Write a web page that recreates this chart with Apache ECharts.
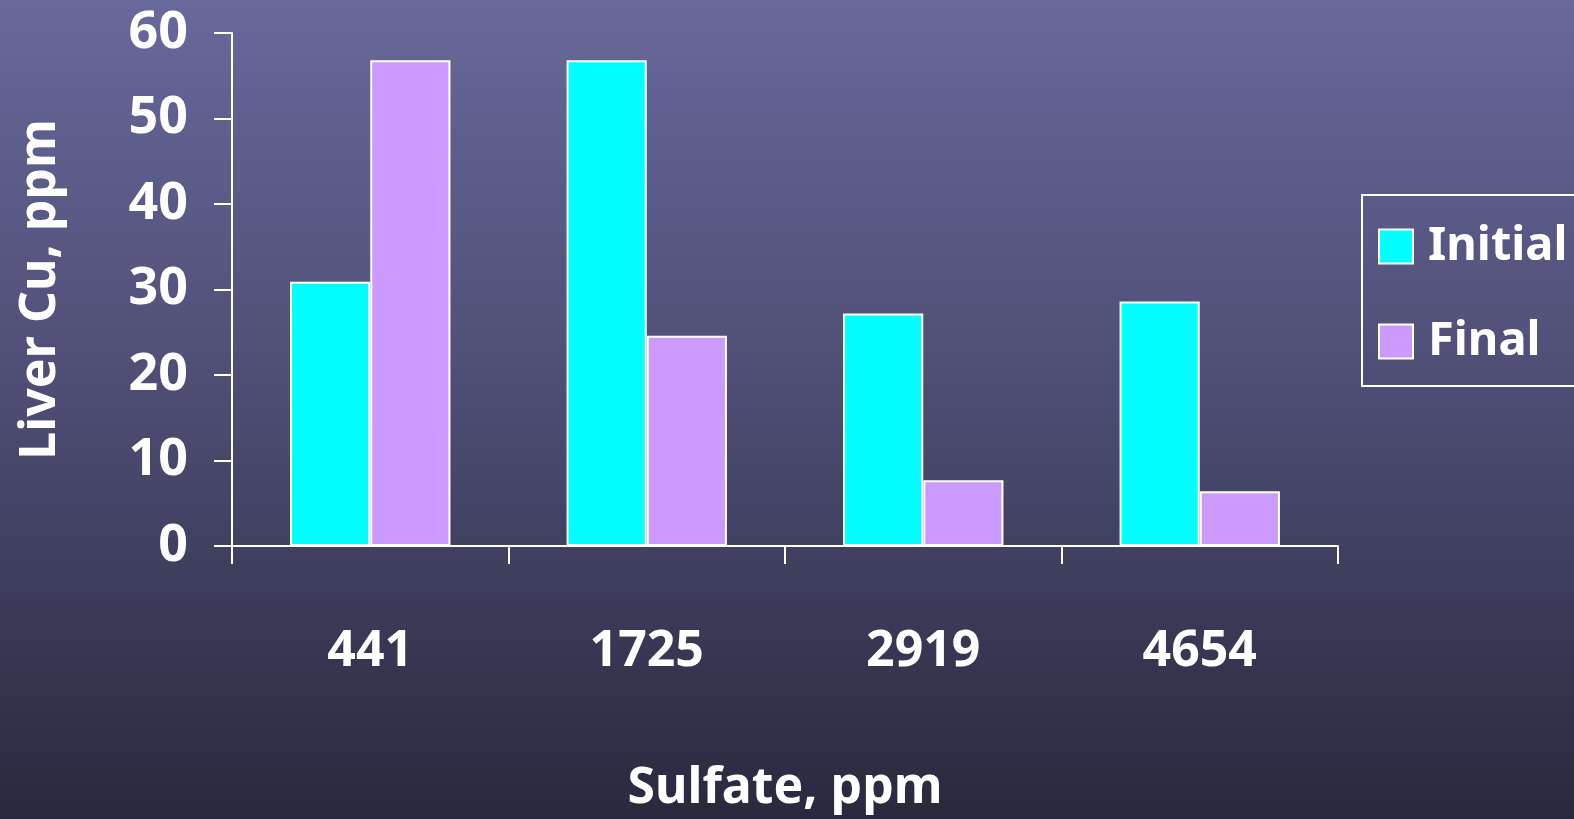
<!DOCTYPE html>
<html>
<head>
<meta charset="utf-8">
<script src="https://cdn.jsdelivr.net/npm/echarts@6/dist/echarts.min.js"></script>
<style>
  html, body { margin: 0; padding: 0; }
  #chart { width: 1574px; height: 819px; }
</style>
</head>
<body>
<div id="chart"></div>
<script>
// data
const categories = ['441', '1725', '2919', '4654']
const initialValues = [30.9, 56.8, 27.2, 28.6]
const finalValues = [56.8, 24.6, 7.7, 6.4]
const seriesNames = ['Initial', 'Final']

const font = "'Comic Sans MS', 'Noto Sans', sans-serif"
const white = '#ffffff'

const chart = echarts.init(document.getElementById('chart'))
chart.setOption({
  animation: false,
  backgroundColor: new echarts.graphic.LinearGradient(0, 0, 0, 1, [
    { offset: 0, color: '#68689b' },
    { offset: 0.5, color: '#4c4c72' },
    { offset: 1, color: '#28283d' }
  ]),
  textStyle: { fontFamily: font },
  grid: {
    left: 232,
    right: 236,
    top: 33,
    bottom: 273,
    outerBoundsMode: 'none'
  },
  legend: {
    orient: 'vertical',
    left: 1362,
    top: 195,
    width: 260,
    padding: [28, 30, 21, 16],
    itemWidth: 34,
    itemHeight: 34,
    itemGap: 48,
    icon: 'rect',
    borderColor: white,
    borderWidth: 2,
    textStyle: {
      color: white,
      fontSize: 47,
      fontWeight: 'bold',
      fontFamily: font,
      padding: [0, 0, 0, 10]
    },
    data: seriesNames
  },
  xAxis: {
    type: 'category',
    data: categories,
    name: 'Sulfate, ppm',
    nameLocation: 'middle',
    nameGap: 218,
    nameTextStyle: { color: white, fontSize: 50, fontWeight: 'bold', fontFamily: font },
    axisLine: { lineStyle: { color: white, width: 2 } },
    axisTick: { show: true, length: 18, lineStyle: { color: white, width: 2 } },
    axisLabel: { color: white, fontSize: 50, fontWeight: 'bold', margin: 81, fontFamily: font }
  },
  yAxis: {
    type: 'value',
    min: 0,
    max: 60,
    interval: 10,
    name: 'Liver Cu, ppm',
    nameLocation: 'middle',
    nameGap: 166,
    nameTextStyle: { color: white, fontSize: 50, fontWeight: 'bold', fontFamily: font },
    axisLine: { show: true, lineStyle: { color: white, width: 2 } },
    axisTick: { show: true, length: 18, lineStyle: { color: white, width: 2 } },
    splitLine: { show: false },
    axisLabel: { color: white, fontSize: 52, fontWeight: 'bold', margin: 44, fontFamily: font }
  },
  series: [
    {
      name: seriesNames[0],
      type: 'bar',
      data: initialValues,
      barGap: '0%',
      barCategoryGap: '42%',
      itemStyle: { color: '#00ffff', borderColor: white, borderWidth: 2 }
    },
    {
      name: seriesNames[1],
      type: 'bar',
      data: finalValues,
      itemStyle: { color: '#cc99ff', borderColor: white, borderWidth: 2 }
    }
  ]
})
</script>
</body>
</html>
